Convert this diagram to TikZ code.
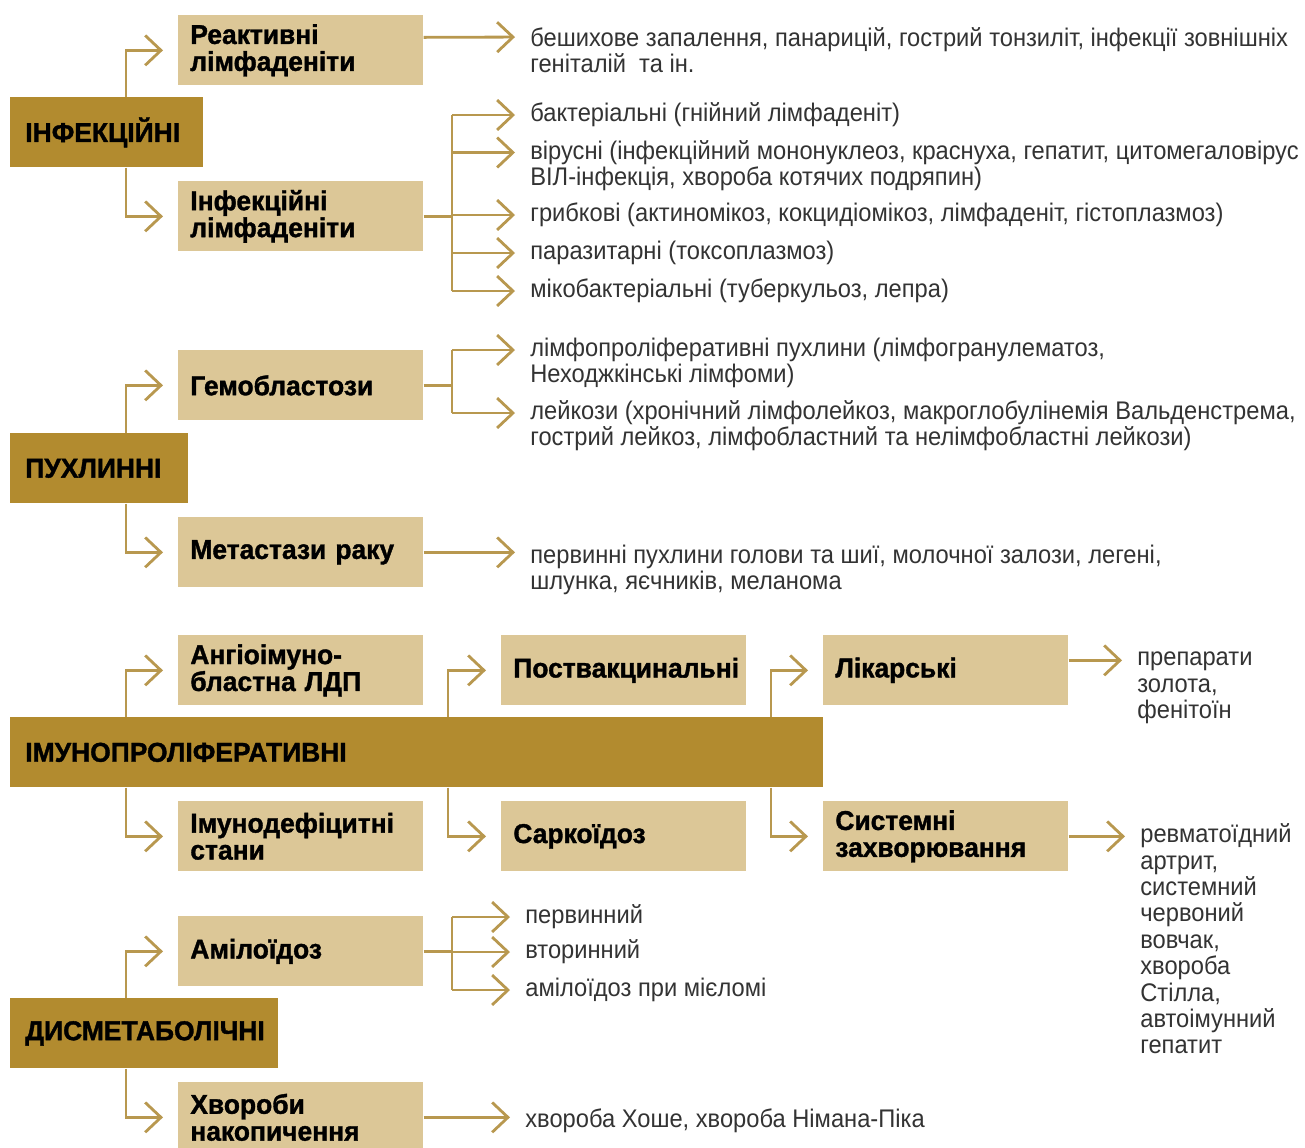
\documentclass[tikz,border=0pt]{standalone}
\usepackage{fontspec}
\setmainfont{Liberation Sans}[FakeStretch=0.93]
\newfontfamily\labelfont{Liberation Sans}[FakeStretch=0.97,BoldFeatures={FakeBold=1.3}]
\usetikzlibrary{arrows.meta}
\definecolor{ochre}{HTML}{B28B2F}
\definecolor{sand}{HTML}{DCC797}
\definecolor{stem}{HTML}{B8984F}
\definecolor{ink}{HTML}{333333}

\begin{document}
\begin{tikzpicture}[x=0.02cm,y=-0.02cm,
  group/.style={fill=ochre,anchor=north west,minimum height=1.4cm,inner xsep=0.3cm,align=left,
    font=\labelfont\bfseries\fontsize{15.5}{15.3}\selectfont},
  kind/.style={fill=sand,anchor=north west,minimum height=1.4cm,text width=4.42cm,inner xsep=0.24cm,align=left,
    font=\labelfont\bfseries\fontsize{15.5}{15.3}\selectfont},
  item/.style={anchor=west,inner sep=0pt,align=left,text=ink,font=\fontsize{14.5}{15}\selectfont},
  wire/.style={draw=stem,line width=1.6pt},
  conn/.style={wire,-{Straight Barb[length=9pt,width=17pt]},shorten >=0.3cm}]
  \clip (0,0) rectangle (1305,1147);
  % trunks and buses
  \coordinate (trunkA) at (126,0); \coordinate (trunkB) at (448,0); \coordinate (trunkC) at (771,0);
  \coordinate (busA) at (452,0);
  % infectious
  \node[group,text width=3.26cm] (inf) at (10,97) {ІНФЕКЦІЙНІ};
  \node[kind] (react) at (178,15) {Реактивні\\лімфаденіти};
  \node[kind] (infl) at (178,181) {Інфекційні\\лімфаденіти};
  \draw[conn] (inf.north -| trunkA) |- (react.west);
  \draw[conn] (inf.south -| trunkA) |- (infl.west);
  \node[item] (tReact) at (530,50) {бешихове запалення, панарицій, гострий тонзиліт, інфекції зовнішніх\\геніталій\ \ та ін.};
  \draw[conn] ([yshift=.26cm]react.east) -- ([yshift=.26cm]tReact.west);
  \node[item] (tBact) at (530,115) {бактеріальні (гнійний лімфаденіт)};
  \node[item] (tVir) at (530,165.5) {вірусні (інфекційний мононуклеоз, краснуха, гепатит, цитомегаловірус\\ВІЛ-інфекція, хвороба котячих подряпин)};
  \node[item] (tGrib) at (530,215) {грибкові (актиномікоз, кокцидіомікоз, лімфаденіт, гістоплазмоз)};
  \node[item] (tPar) at (530,253) {паразитарні (токсоплазмоз)};
  \node[item] (tMyco) at (530,291) {мікобактеріальні (туберкульоз, лепра)};
  \draw[wire] (infl.east) -- (infl.east -| busA);
  \draw[wire] (tBact.west -| busA) -- (tMyco.west -| busA);
  \foreach \t in {tBact,tGrib,tPar,tMyco} \draw[conn] (\t.west -| busA) -- (\t.west);
  \draw[conn] ([yshift=.26cm]tVir.west -| busA) -- ([yshift=.26cm]tVir.west);
  % tumours
  \node[group,text width=2.96cm] (pux) at (10,433) {ПУХЛИННІ};
  \node[kind] (hemo) at (178,350) {Гемобластози};
  \node[kind] (meta) at (178,517) {Метастази раку};
  \draw[conn] (pux.north -| trunkA) |- (hemo.west);
  \draw[conn] (pux.south -| trunkA) |- (meta.west);
  \node[item] (tLymph) at (530,363) {лімфопроліферативні пухлини (лімфогранулематоз,\\Неходжкінські лімфоми)};
  \node[item] (tLeuk) at (530,426) {лейкози (хронічний лімфолейкоз, макроглобулінемія Вальденстрема,\\гострий лейкоз, лімфобластний та нелімфобластні лейкози)};
  \node[item] (tMeta) at (530,570) {первинні пухлини голови та шиї, молочної залози, легені,\\шлунка, яєчників, меланома};
  \draw[wire] (hemo.east) -- (hemo.east -| busA);
  \draw[wire] ([yshift=.26cm]tLymph.west -| busA) -- ([yshift=.26cm]tLeuk.west -| busA);
  \foreach \t in {tLymph,tLeuk} \draw[conn] ([yshift=.26cm]\t.west -| busA) -- ([yshift=.26cm]\t.west);
  \draw[conn] (meta.east) -- (meta.east -| tMeta.west);
  % immunoproliferative
  \node[group,text width=15.66cm] (imu) at (10,717) {ІМУНОПРОЛІФЕРАТИВНІ};
  \node[kind] (angio) at (178,635) {Ангіоімуно-\\бластна ЛДП};
  \node[kind] (postv) at (501,635) {Поствакцинальні};
  \node[kind] (likar) at (823,635) {Лікарські};
  \node[kind] (immdef) at (178,801) {Імунодефіцитні\\стани};
  \node[kind] (sark) at (501,801) {Саркоїдоз};
  \node[kind] (sist) at (823,801) {Системні\\захворювання};
  \draw[conn] (imu.north -| trunkA) |- (angio.west);
  \draw[conn] (imu.south -| trunkA) |- (immdef.west);
  \draw[conn] (imu.north -| trunkB) |- (postv.west);
  \draw[conn] (imu.south -| trunkB) |- (sark.west);
  \draw[conn] (imu.north -| trunkC) |- (likar.west);
  \draw[conn] (imu.south -| trunkC) |- (sist.west);
  \node[item] (tLikar) at (1137,688) {препарати\\золота,\\фенітоїн};
  \draw[conn] ([yshift=.2cm]likar.east) -- ([yshift=.2cm]likar.east -| tLikar.west);
  \node[item] (tSist) at (1140,939) {ревматоїдний\\артрит,\\системний\\червоний\\вовчак,\\хвороба\\Стілла,\\автоімунний\\гепатит};
  \draw[conn] (sist.east) -- (sist.east -| tSist.west);
  % dysmetabolic
  \node[group,text width=4.76cm] (dys) at (10,998) {ДИСМЕТАБОЛІЧНІ};
  \node[kind] (amil) at (178,916) {Амілоїдоз};
  \node[kind] (nakop) at (178,1082) {Хвороби\\накопичення};
  \draw[conn] (dys.north -| trunkA) |- (amil.west);
  \draw[conn] (dys.south -| trunkA) |- (nakop.west);
  \node[item] (tPerv) at (525,917) {первинний};
  \node[item] (tVtor) at (525,952) {вторинний};
  \node[item] (tMiel) at (525,990) {амілоїдоз при мієломі};
  \node[item] (tGosh) at (525,1121) {хвороба Хоше, хвороба Німана-Піка};
  \draw[wire] (amil.east) -- (amil.east -| busA);
  \draw[wire] (tPerv.west -| busA) -- (tMiel.west -| busA);
  \foreach \t in {tPerv,tVtor,tMiel} \draw[conn] (\t.west -| busA) -- (\t.west);
  \draw[conn] (nakop.east) -- (nakop.east -| tGosh.west);
\end{tikzpicture}
\end{document}
